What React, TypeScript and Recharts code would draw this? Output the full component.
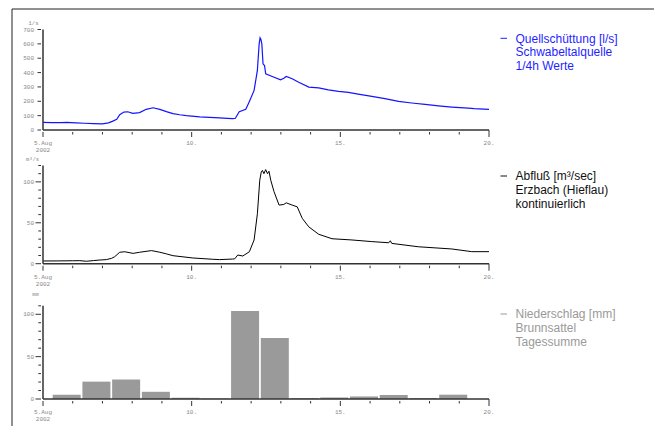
import React from 'react';
import { LineChart, Line, BarChart, Bar, XAxis, YAxis } from 'recharts';

// Quellschüttung Schwabeltalquelle [l/s], time in days of Aug 2002
const springTime = [
	5.0, 5.3, 5.6, 5.8, 6.1, 6.4, 6.7, 7.0, 7.2, 7.33, 7.48, 7.58, 7.72, 7.85, 8.02, 8.25, 8.47, 8.7,
	8.93, 9.15, 9.37, 9.6, 9.82, 10.27, 10.6, 10.94, 11.2, 11.38, 11.47, 11.6, 11.82, 11.93, 12.1,
	12.21, 12.27, 12.3, 12.33, 12.36, 12.4, 12.45, 12.49, 12.71, 12.99, 13.1, 13.18, 13.38, 13.6,
	13.94, 14.27, 14.6, 14.94, 15.27, 15.6, 16.06, 16.5, 16.96, 17.4, 17.85, 18.3, 18.75, 19.3, 19.5,
	20.0,
];
const springFlow = [
	53, 52, 51, 53, 50, 47, 45, 43, 50, 60, 74, 107, 125, 127, 116, 121, 144, 155, 144, 128, 114,
	106, 100, 92, 88, 85, 81, 79, 82, 128, 144, 194, 276, 415, 600, 642, 630, 600, 461, 449, 392, 373,
	350, 360, 373, 357, 333, 299, 294, 280, 269, 262, 250, 234, 218, 199, 188, 178, 168, 160, 152,
	149, 144,
];

// Abfluß Erzbach (Hieflau) [m³/s]
const riverTime = [
	5.0, 5.5, 6.0, 6.24, 6.46, 6.7, 6.91, 7.13, 7.3, 7.41, 7.58, 7.75, 8.03, 8.25, 8.65, 8.93, 9.15,
	9.37, 10.04, 10.71, 10.94, 11.38, 11.45, 11.55, 11.72, 11.94, 12.1, 12.21, 12.29, 12.34, 12.38,
	12.43, 12.49, 12.55, 12.6, 12.66, 12.77, 12.94, 13.1, 13.18, 13.38, 13.55, 13.72, 13.94, 14.27,
	14.72, 15.39, 16.06, 16.63, 16.68, 16.73, 17.62, 18.75, 19.42, 20.0,
];
const riverFlow = [
	3.3, 3.4, 3.6, 3.7, 3.0, 3.8, 4.5, 5, 6.5, 8.5, 14, 14.6, 12.6, 14, 16, 14, 12, 9.8, 7, 5.4, 5,
	5.7, 6, 10.6, 9.4, 14.6, 29, 61, 102, 112, 114, 110, 115, 110, 113, 102, 88, 71.6, 72.4, 74.4,
	71.6, 69.5, 55.4, 45, 36, 30.5, 29, 27, 25.6, 28, 24.8, 20.7, 18, 14.7, 14.7,
];

// Niederschlag Brunnsattel, Tagessumme [mm] (day from 7:00 to 7:00)
const rainDay = [5, 6, 7, 8, 9, 10, 11, 12, 13, 14, 15, 16, 17, 18];
const rainMm = [5, 20.5, 23, 8.5, 1.5, 0.5, 104, 72, 1, 1.8, 3, 4.7, 1.2, 5.1];

const dayTicks = [5, 6, 7, 8, 9, 10, 11, 12, 13, 14, 15, 16, 17, 18, 19, 20];

const springData = springTime.map((t, i) => ({ t, v: springFlow[i] }));
const riverData = riverTime.map((t, i) => ({ t, v: riverFlow[i] }));
const rainData = rainDay.map((d, i) => ({ t: d + 7 / 24 + 0.5, mm: rainMm[i] }));

const W = 654;
const H = 426;
const MONO = '"Liberation Mono", "DejaVu Sans Mono", monospace';
const SANS = '"Liberation Sans", Arial, sans-serif';
const AXIS = '#333';
const LABEL = '#888';

const XTick = (props: any) => {
	const { x, y, payload } = props;
	const v = payload.value;
	const major = v % 5 === 0;
	return (
		<g>
			<line x1={x} x2={x} y1={y - (v === 20 ? 2 : 0)} y2={y + (major ? 5 : 2.5)} stroke={AXIS} />
			{major && (
				<text x={x} y={y + 13} textAnchor="middle" fontFamily={MONO} fontSize={6} fill={LABEL}>
					{v === 5 ? '5.Aug' : `${v}.`}
				</text>
			)}
			{v === 5 && (
				<text x={x} y={y + 20} textAnchor="middle" fontFamily={MONO} fontSize={6} fill={LABEL}>
					2002
				</text>
			)}
		</g>
	);
};

const makeYTick = (labels: number[], majorLen: number, minorLen: number) => (props: any) => {
	const { x, y, payload } = props;
	const v = payload.value;
	const major = labels.includes(v);
	return (
		<g>
			<line x1={x - (major ? majorLen : minorLen)} x2={x} y1={y} y2={y} stroke={AXIS} />
			{major && (
				<text x={x - 7} y={y + 2} textAnchor="end" fontFamily={MONO} fontSize={6} fill={LABEL}>
					{v}
				</text>
			)}
		</g>
	);
};

const margin = (top: number) => ({ top, right: W - 489, bottom: 0, left: 0 });

const xAxisProps = (bottom: number) => ({
	dataKey: 't',
	type: 'number' as const,
	domain: [5, 20],
	ticks: dayTicks,
	interval: 0,
	tickSize: 0,
	tick: XTick,
	height: H - bottom,
	axisLine: { stroke: AXIS, strokeWidth: 1.5 },
});

const yAxisProps = (domain: number[], ticks: number[], tick: any) => ({
	type: 'number' as const,
	domain,
	ticks,
	interval: 0,
	tickSize: 0,
	tick,
	width: 43,
	axisLine: { stroke: AXIS, strokeWidth: 1.5 },
});

const abs: React.CSSProperties = { position: 'absolute', left: 0, top: 0 };

const Legend = ({ y, color, lines }: { y: number; color: string; lines: string[] }) => (
	<g fontFamily={SANS} fontSize={12} fill={color}>
		<line x1={500.5} x2={507} y1={y - 4.3} y2={y - 4.3} stroke={color} />
		{lines.map((s, i) => (
			<text key={i} x={515.5} y={y + i * 13.7}>
				{s}
			</text>
		))}
	</g>
);

export default function App() {
	return (
		<div style={{ position: 'absolute', left: 0, top: 0, width: W, height: H, background: '#fff' }}>
			<div style={abs}>
				<LineChart width={W} height={H} data={springData} margin={margin(29.5)}>
					<XAxis {...xAxisProps(130)} />
					<YAxis
						{...yAxisProps(
							[0, 700],
							[0, 100, 200, 300, 400, 500, 600, 700],
							makeYTick([0, 100, 200, 300, 400, 500, 600, 700], 3.5, 3.5)
						)}
					/>
					<Line dataKey="v" type="linear" stroke="#1414ff" strokeWidth={1.2} dot={false} isAnimationActive={false} />
				</LineChart>
			</div>
			<div style={abs}>
				<LineChart width={W} height={H} data={riverData} margin={margin(165.5)}>
					<XAxis {...xAxisProps(263.7)} />
					<YAxis
						{...yAxisProps(
							[0, 120],
							[0, 10, 20, 30, 40, 50, 60, 70, 80, 90, 100, 110, 120],
							makeYTick([0, 50, 100], 5.5, 2.7)
						)}
					/>
					<Line dataKey="v" type="linear" stroke="#000" strokeWidth={1} dot={false} isAnimationActive={false} />
				</LineChart>
			</div>
			<div style={abs}>
				<BarChart width={W} height={H} data={rainData} margin={margin(305.8)}>
					<XAxis {...xAxisProps(399)} />
					<YAxis
						{...yAxisProps(
							[0, 110],
							[0, 10, 20, 30, 40, 50, 60, 70, 80, 90, 100, 110],
							makeYTick([0, 50, 100], 5.5, 2.7)
						)}
					/>
					<Bar dataKey="mm" fill="#9a9a9a" barSize={28} isAnimationActive={false} />
				</BarChart>
			</div>
			<svg style={{ ...abs, pointerEvents: 'none' }} width={W} height={H}>
				<line x1={12} x2={W} y1={9} y2={9} stroke="#222" />
				<line x1={12} x2={12} y1={9} y2={H} stroke="#222" />
				<g fontFamily={MONO} fontSize={5.5} fill={LABEL} textAnchor="middle">
					<text x={33.5} y={25}>1/s</text>
					<text x={32.5} y={161}>m³/s</text>
					<text x={35.5} y={296}>mm</text>
				</g>
				<Legend y={42.6} color="#1f1fff" lines={['Quellschüttung [l/s]', 'Schwabeltalquelle', '1/4h Werte']} />
				<Legend y={180.3} color="#111" lines={['Abfluß [m³/sec]', 'Erzbach (Hieflau)', 'kontinuierlich']} />
				<Legend y={318.3} color="#9a9a9a" lines={['Niederschlag [mm]', 'Brunnsattel', 'Tagessumme']} />
			</svg>
		</div>
	);
}
